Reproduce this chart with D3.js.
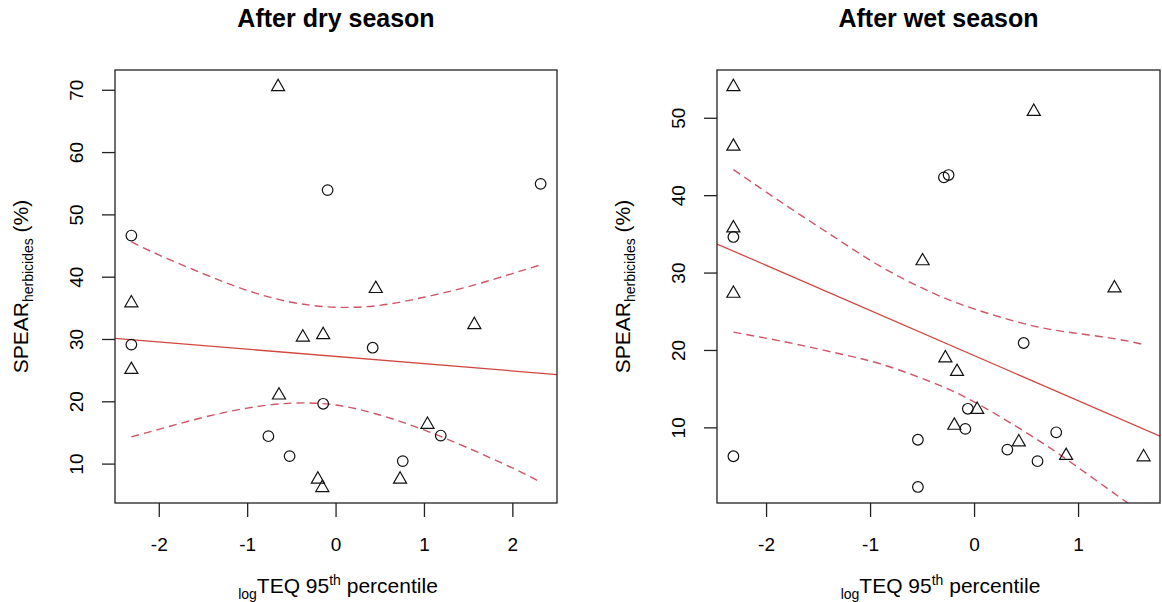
<!DOCTYPE html>
<html>
<head>
<meta charset="utf-8">
<script src="https://cdn.jsdelivr.net/npm/d3@7"></script>
<style>
  body { margin: 0; background: #fff; }
  text { font-family: "Liberation Sans", Arial, Helvetica, sans-serif; fill: #000; }
</style>
</head>
<body>
<div id="chart"></div>
<script>
// After dry season: triangles and circles
var dryTriX = [-0.65, -2.31, -2.31, -0.64, -0.37, -0.14, 0.455, 1.57, 1.04, -0.20, -0.15, 0.73];
var dryTriY = [70.6, 35.9, 25.2, 21.1, 30.4, 30.8, 38.2, 32.4, 16.4, 7.6, 6.25, 7.6];
var dryCircX = [-2.31, -2.31, -0.09, 2.32, 0.42, -0.14, 1.19, -0.52, 0.76, -0.76];
var dryCircY = [46.6, 29.1, 53.9, 54.9, 28.6, 19.6, 14.5, 11.2, 10.4, 14.4];
var dryIntercept = 27.2, drySlope = -1.16;
var dryBandX = [-2.31, -2, -1.5, -1, -0.5, 0, 0.5, 1, 1.5, 2, 2.32];
var dryUpper = [45.6, 43.5, 40.5, 37.8, 35.9, 35.1, 35.4, 36.7, 38.4, 40.5, 41.9];
var dryLower = [14.3, 15.5, 17.4, 18.9, 19.7, 19.4, 17.8, 15.4, 12.5, 9.3, 7.0];

// After wet season
var wetTriX = [-2.314, -2.314, -2.314, -2.314, 0.574, -0.495, 1.35, -0.276, -0.164, 0.03, -0.19, 0.43, 0.885, 1.63];
var wetTriY = [54.1, 46.4, 35.85, 27.4, 50.9, 31.6, 28.1, 19.05, 17.3, 12.4, 10.35, 8.2, 6.45, 6.27];
var wetCircX = [-2.314, -2.314, -0.29, -0.245, 0.477, -0.06, -0.084, -0.54, -0.54, 0.32, 0.61, 0.79];
var wetCircY = [34.6, 6.27, 42.3, 42.6, 20.9, 12.4, 9.8, 8.4, 2.3, 7.13, 5.63, 9.36];
var wetIntercept = 19.28, wetSlope = -5.83;
var wetBandX = [-2.314, -1.8, -1.357, -0.9, -0.42, 0, 0.54, 0.96, 1.376, 1.63];
var wetUpper = [43.3, 38.6, 34.7, 30.8, 27.5, 25.3, 23.2, 22.2, 21.4, 20.7];
var wetLower = [22.3, 21.0, 19.7, 18.2, 15.9, 13.3, 9.0, 5.2, 1.2, -1.2];

var titles = ["After dry season", "After wet season"];
var dryXTicks = [-2, -1, 0, 1, 2];
var dryYTicks = [10, 20, 30, 40, 50, 60, 70];
var wetXTicks = [-2, -1, 0, 1];
var wetYTicks = [10, 20, 30, 40, 50];

var svgWidth = 1162;
var svgHeight = 602;

var svg = d3.select("#chart")
  .append("svg")
  .attr("width", svgWidth)
  .attr("height", svgHeight);

// R style axis range: data range extended by 4% each side
function rRange(vals) {
  var ext = d3.extent(vals);
  var pad = (ext[1] - ext[0]) * 0.04;
  return [ext[0] - pad, ext[1] + pad];
}

function drawPanel(id, box, title, triX, triY, circX, circY, icpt, slope, bandX, upper, lower, xTicks, yTicks) {
  var width = box.right - box.left;
  var height = box.bottom - box.top;

  var g = svg.append("g")
    .attr("transform", `translate(${box.left}, ${box.top})`);

  var x = d3.scaleLinear()
    .domain(rRange(triX.concat(circX)))
    .range([0, width]);
  var y = d3.scaleLinear()
    .domain(rRange(triY.concat(circY)))
    .range([height, 0]);

  g.append("clipPath").attr("id", "clip" + id)
    .append("rect").attr("width", width).attr("height", height);

  var plot = g.append("g").attr("clip-path", `url(#clip${id})`);

  // regression line across the whole plot
  var xd = x.domain();
  plot.append("line")
    .attr("x1", x(xd[0])).attr("y1", y(icpt + slope * xd[0]))
    .attr("x2", x(xd[1])).attr("y2", y(icpt + slope * xd[1]))
    .attr("stroke", "#d2473f")
    .attr("stroke-width", 1.3);

  // confidence bands
  var band = d3.line()
    .x(d => x(d[0]))
    .y(d => y(d[1]))
    .curve(d3.curveNatural);

  [upper, lower].forEach(function(vals) {
    plot.append("path")
      .datum(bandX.map((v, i) => [v, vals[i]]))
      .attr("d", band)
      .attr("fill", "none")
      .attr("stroke", "#cf5565")
      .attr("stroke-width", 1.4)
      .attr("stroke-dasharray", "8,5");
  });

  // points
  g.selectAll(".circ")
    .data(circX.map((v, i) => [v, circY[i]]))
    .enter()
    .append("circle")
    .attr("cx", d => x(d[0]))
    .attr("cy", d => y(d[1]))
    .attr("r", 5.3)
    .attr("fill", "none")
    .attr("stroke", "#111")
    .attr("stroke-width", 1.2);

  var tri = d3.symbol().type(d3.symbolTriangle).size(74);
  g.selectAll(".tri")
    .data(triX.map((v, i) => [v, triY[i]]))
    .enter()
    .append("path")
    .attr("d", tri)
    .attr("transform", d => `translate(${x(d[0])}, ${y(d[1]) + 0.8})`)
    .attr("fill", "none")
    .attr("stroke", "#111")
    .attr("stroke-width", 1.2);

  // box
  g.append("rect")
    .attr("width", width)
    .attr("height", height)
    .attr("fill", "none")
    .attr("stroke", "#222")
    .attr("stroke-width", 1.3);

  // axes
  var bottomAxis = d3.axisBottom(x).tickValues(xTicks).tickSize(14).tickSizeOuter(0).tickFormat(d3.format("d"));
  var xAxis = g.append("g")
    .attr("transform", `translate(0, ${height})`)
    .call(bottomAxis);
  xAxis.select(".domain").remove();
  xAxis.selectAll("line").attr("stroke", "#222").attr("stroke-width", 1.3);
  xAxis.selectAll("text")
    .attr("y", 48).attr("dy", 0)
    .style("font-size", "19px")
    .style("font-family", "Liberation Sans, Arial, sans-serif")
    .text(d => d < 0 ? "-" + Math.abs(d) : d);

  var leftAxis = d3.axisLeft(y).tickValues(yTicks).tickSize(13).tickSizeOuter(0);
  var yAxis = g.append("g").call(leftAxis);
  yAxis.select(".domain").remove();
  yAxis.selectAll("line").attr("stroke", "#222").attr("stroke-width", 1.3);
  yAxis.selectAll("text")
    .attr("x", 0).attr("dy", 0)
    .attr("transform", "translate(-32, 0) rotate(-90)")
    .attr("text-anchor", "middle")
    .style("font-size", "19px")
    .style("font-family", "Liberation Sans, Arial, sans-serif");

  // title
  svg.append("text")
    .attr("x", box.left + width / 2)
    .attr("y", 27)
    .attr("text-anchor", "middle")
    .style("font-size", "25px")
    .style("font-weight", "bold")
    .text(title);

  // x label
  var xl = svg.append("text")
    .attr("x", box.left + width / 2 + 2)
    .attr("y", 593)
    .attr("text-anchor", "middle")
    .style("font-size", "21px");
  xl.append("tspan").attr("dy", 6).style("font-size", "14px").text("log");
  xl.append("tspan").attr("dy", -6).text("TEQ 95");
  xl.append("tspan").attr("dy", -8).style("font-size", "14px").text("th");
  xl.append("tspan").attr("dy", 8).text(" percentile");

  // y label
  var yl = svg.append("text")
    .attr("transform", `translate(${box.left - 87}, ${box.top + height / 2}) rotate(-90)`)
    .attr("text-anchor", "middle")
    .style("font-size", "21px");
  yl.append("tspan").text("SPEAR");
  yl.append("tspan").attr("dy", 5).style("font-size", "14px").text("herbicides");
  yl.append("tspan").attr("dy", -5).text(" (%)");
}

drawPanel("dry", {left: 115, right: 557, top: 70, bottom: 503}, titles[0],
  dryTriX, dryTriY, dryCircX, dryCircY, dryIntercept, drySlope,
  dryBandX, dryUpper, dryLower, dryXTicks, dryYTicks);

drawPanel("wet", {left: 717, right: 1160, top: 70, bottom: 503}, titles[1],
  wetTriX, wetTriY, wetCircX, wetCircY, wetIntercept, wetSlope,
  wetBandX, wetUpper, wetLower, wetXTicks, wetYTicks);
</script>
</body>
</html>
